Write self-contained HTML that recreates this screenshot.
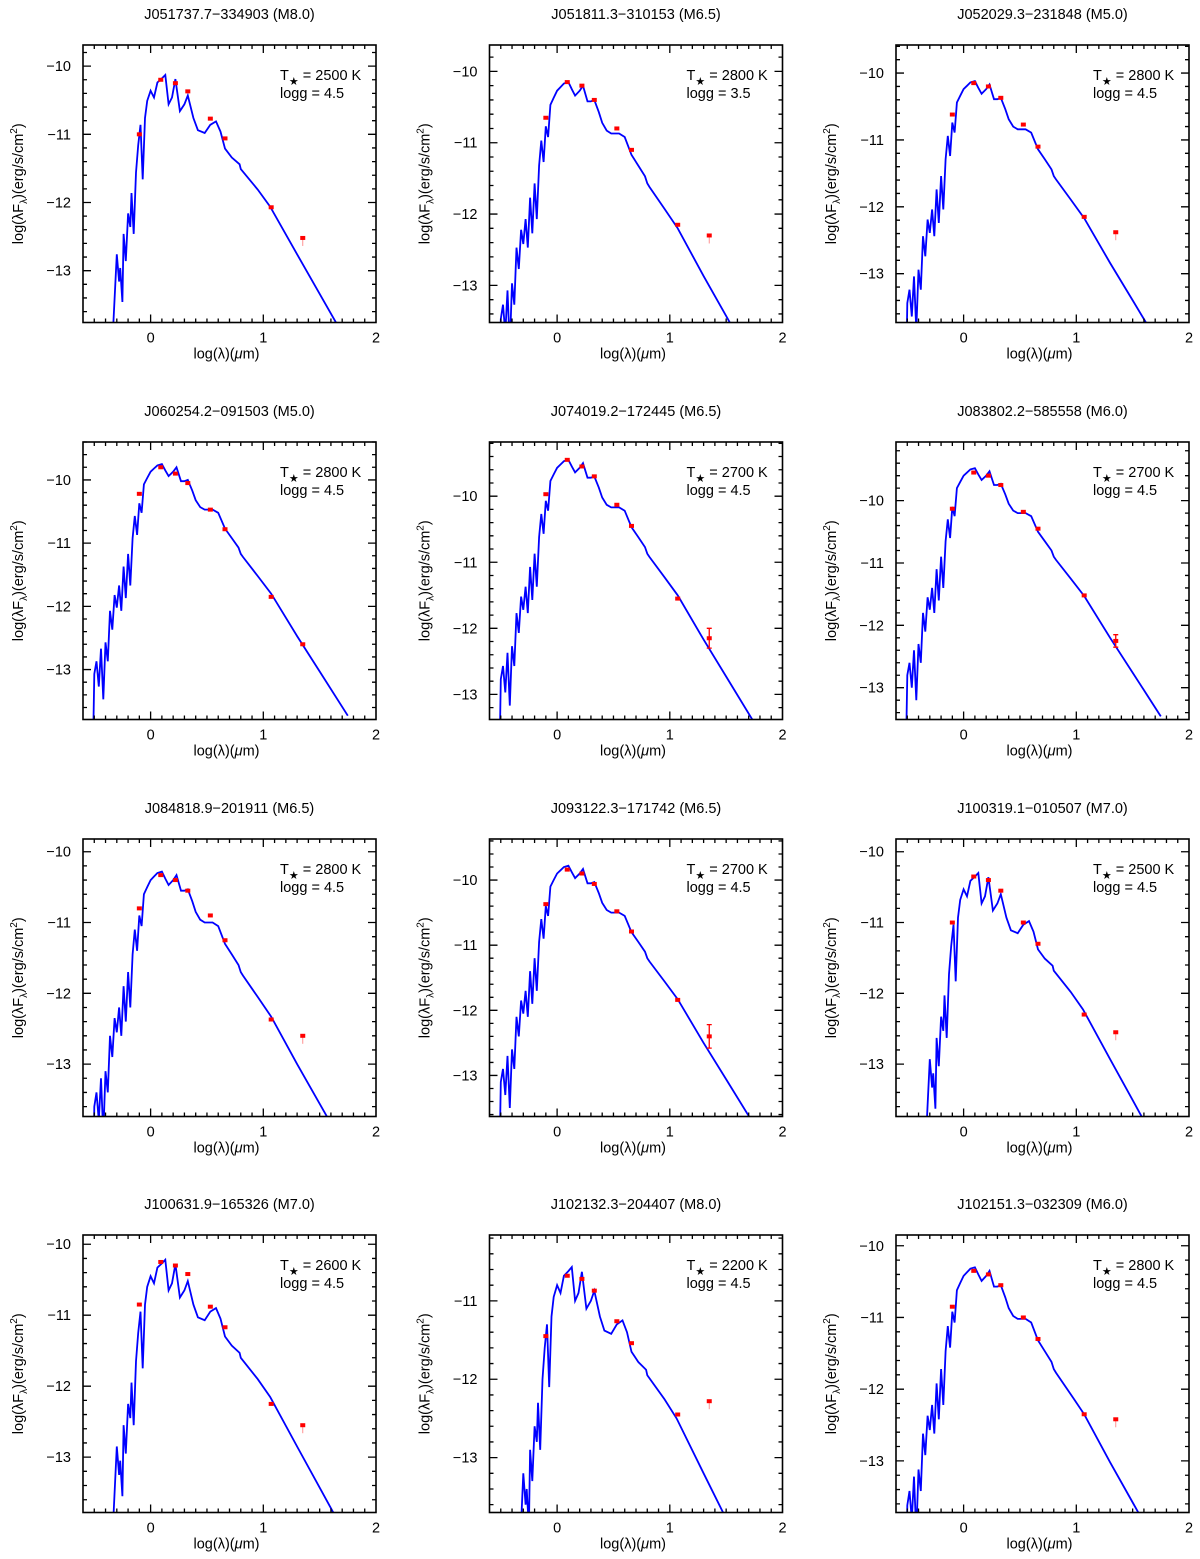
<!DOCTYPE html>
<html><head><meta charset="utf-8">
<style>
html,body{margin:0;padding:0;background:#fff;}
svg{display:block;font-family:"Liberation Sans",sans-serif;}
</style></head>
<body>
<svg id="fig" width="1200" height="1559" viewBox="0 0 1200 1559" xmlns="http://www.w3.org/2000/svg"></svg>
<script>
// ---- data ----
const titles = ["J051737.7\u2212334903 (M8.0)","J051811.3\u2212310153 (M6.5)","J052029.3\u2212231848 (M5.0)",
"J060254.2\u2212091503 (M5.0)","J074019.2\u2212172445 (M6.5)","J083802.2\u2212585558 (M6.0)",
"J084818.9\u2212201911 (M6.5)","J093122.3\u2212171742 (M6.5)","J100319.1\u2212010507 (M7.0)",
"J100631.9\u2212165326 (M7.0)","J102132.3\u2212204407 (M8.0)","J102151.3\u2212032309 (M6.0)"];
const temps = [2500,2800,2800,2800,2700,2700,2800,2700,2500,2600,2200,2800];
const loggs = ["4.5","3.5","4.5","4.5","4.5","4.5","4.5","4.5","4.5","4.5","4.5","4.5"];
const yMins = [-13.76,-13.52,-13.73,-13.79,-13.38,-13.51,-13.74,-13.63,-13.74,-13.78,-13.70,-13.72];
const yMaxs = [-9.69,-9.63,-9.58,-9.40,-9.18,-9.06,-9.82,-9.37,-9.82,-9.87,-10.16,-9.85];
const templType = ["cool","warm","warm","warm","warm","warm","warm","warm","cool","cool","cool","warm"];
const peaks = [-10.13,-10.15,-10.12,-9.75,-9.45,-9.48,-10.28,-9.78,-10.3,-10.22,-10.57,-10.3];
const photX = [-0.1,0.09,0.22,0.33,0.53,0.66,1.07,1.35];
const photY = [
[-11.0,-10.2,-10.25,-10.37,-10.77,-11.06,-12.07,-12.52],
[-10.65,-10.15,-10.2,-10.4,-10.8,-11.1,-12.15,-12.3],
[-10.62,-10.15,-10.2,-10.37,-10.77,-11.1,-12.15,-12.38],
[-10.22,-9.8,-9.9,-10.05,-10.47,-10.78,-11.85,-12.6],
[-9.97,-9.45,-9.55,-9.7,-10.13,-10.45,-11.55,-12.15],
[-10.13,-9.55,-9.6,-9.75,-10.18,-10.45,-11.52,-12.25],
[-10.8,-10.33,-10.4,-10.55,-10.9,-11.25,-12.37,-12.6],
[-10.37,-9.84,-9.9,-10.06,-10.48,-10.79,-11.84,-12.4],
[-11.0,-10.35,-10.4,-10.55,-11.0,-11.3,-12.3,-12.55],
[-10.85,-10.25,-10.3,-10.42,-10.88,-11.17,-12.25,-12.55],
[-11.45,-10.68,-10.72,-10.87,-11.26,-11.54,-12.45,-12.28],
[-10.85,-10.35,-10.4,-10.55,-11.0,-11.3,-12.35,-12.42]];
const lastErr = [0,0,0,0,0.15,0.1,0,0.18,0,0,0,0];
const lastIsLimit = [true,true,true,false,false,false,true,false,true,true,true,true];
// model templates (log lambda, log flux for reference star)
const warmX = [-0.51,-0.5,-0.48,-0.46,-0.44,-0.42,-0.4,-0.38,-0.36,-0.34,-0.32,-0.3,-0.28,-0.26,-0.24,-0.22,-0.2,-0.18,-0.16,-0.14,-0.12,-0.1,-0.08,-0.06,-0.03,0.0,0.03,0.06,0.1,0.13,0.16,0.2,0.23,0.27,0.3,0.33,0.37,0.4,0.44,0.48,0.55,0.6,0.66,0.72,0.78,0.8,0.82,0.95,1.07,1.3,1.5,1.75];
const warmY = [-14.2,-13.1,-12.9,-13.3,-12.7,-13.5,-12.6,-12.9,-12.1,-12.4,-11.85,-12.05,-11.7,-12.1,-11.4,-11.9,-11.2,-11.7,-10.95,-10.6,-10.9,-10.4,-10.55,-10.1,-10.0,-9.9,-9.85,-9.8,-9.78,-9.88,-9.97,-9.9,-9.83,-10.05,-10.05,-10.03,-10.2,-10.35,-10.46,-10.5,-10.5,-10.55,-10.8,-10.95,-11.1,-11.2,-11.25,-11.55,-11.83,-12.5,-13.06,-13.76];
const coolX = [-0.33,-0.3,-0.28,-0.27,-0.25,-0.24,-0.22,-0.2,-0.18,-0.17,-0.15,-0.13,-0.11,-0.09,-0.07,-0.05,-0.03,0.0,0.03,0.06,0.1,0.13,0.16,0.19,0.22,0.26,0.3,0.33,0.38,0.42,0.48,0.53,0.58,0.62,0.66,0.72,0.79,0.8,0.95,1.06,1.3,1.5,1.7];
const coolY = [-14.2,-13.2,-13.6,-13.4,-13.9,-12.9,-13.3,-12.6,-12.8,-12.3,-12.9,-12.0,-11.6,-11.3,-12.1,-11.2,-10.95,-10.8,-10.9,-10.68,-10.62,-10.57,-11.0,-10.9,-10.63,-11.1,-11.0,-10.87,-11.2,-11.38,-11.42,-11.3,-11.25,-11.4,-11.65,-11.78,-11.88,-11.95,-12.25,-12.5,-13.2,-13.78,-14.36];
const templPeak = {warm:-9.78, cool:-10.57};

// ---- layout ----
const NS="http://www.w3.org/2000/svg";
const svg=document.getElementById('fig');
const colX=[83,489.5,896];
const rowY=[45,442,839,1235];
const W=293,H=277.5;
const XMIN=-0.6,XMAX=2;
function mk(tag,attrs,parent){const e=document.createElementNS(NS,tag);for(const k in attrs)e.setAttribute(k,attrs[k]);(parent||svg).appendChild(e);return e;}

for(let p=0;p<12;p++){
  const L=colX[p%3],T=rowY[Math.floor(p/3)],R=L+W,B=T+H;
  const ymin=yMins[p],ymax=yMaxs[p];
  const sx=v=>L+(v-XMIN)/(XMAX-XMIN)*W;
  const sy=v=>B-(v-ymin)/(ymax-ymin)*H;
  const g=mk('g',{});
  
  
  const cp=mk('clipPath',{id:'c'+p},g);mk('rect',{x:L,y:T,width:W,height:H},cp);
  const tt=mk('text',{x:L+W/2,y:T-26,'text-anchor':'middle','font-size':'14.5'},g);
  tt.textContent=titles[p];
  
  
  const tx=templType[p]==='warm'?warmX:coolX, ty=templType[p]==='warm'?warmY:coolY;
  const off=peaks[p]-templPeak[templType[p]];
  let d='';
  for(let i=0;i<tx.length;i++){d+=(i?'L':'M')+sx(tx[i]).toFixed(1)+','+sy(ty[i]+off).toFixed(1);}
  const ln=mk('path',{d:d,fill:'none',stroke:'#0000ff','stroke-width':'1.8','clip-path':'url(#c'+p+')'},g);
  
  
  for(let i=0;i<photX.length;i++){
    const cx=sx(photX[i]),cy=sy(photY[p][i]);
    if(i===7&&lastErr[p]>0){
      const y1=sy(photY[p][i]+lastErr[p]),y2=sy(photY[p][i]-lastErr[p]);
      mk('path',{d:`M${cx},${y1}V${y2}M${cx-2.5},${y1}H${cx+2.5}M${cx-2.5},${y2}H${cx+2.5}`,stroke:'#ff0000','stroke-width':'1.3',fill:'none'},g);
    }
    if(i===7&&lastIsLimit[p]){
      mk('path',{d:`M${cx},${cy}V${cy+8}`,stroke:'#ff9090','stroke-width':'1',fill:'none'},g);
    }
    const pt=mk('rect',{x:cx-2.5,y:cy-2,width:5,height:4,fill:'#ff0000'},g);
    
    
  }
  mk('rect',{x:L,y:T,width:W,height:H,fill:'none',stroke:'#000','stroke-width':'1.6'},g);
  let tk='';
  for(let k=-5;k<=19;k++){const v=k/10,x=sx(v),len=(k%10===0)?8:4;tk+=`M${x},${B}v${-len}M${x},${T}v${len}`;}
  for(let k=Math.ceil(ymin*5);k<=Math.floor(ymax*5);k++){const v=k/5,y=sy(v),len=(k%5===0)?8:4;tk+=`M${L},${y}h${len}M${R},${y}h${-len}`;}
  mk('path',{d:tk,stroke:'#000','stroke-width':'1.3',fill:'none'},g);
  for(let v=0;v<=2;v++){const t=mk('text',{x:sx(v),y:B+20,'text-anchor':'middle','font-size':'14.5'},g);t.textContent=String(v);
    }
  for(let v=Math.ceil(ymin);v<=Math.floor(ymax);v++){const t=mk('text',{x:L-12,y:sy(v)+5,'text-anchor':'end','font-size':'14.5'},g);t.textContent='\u2212'+Math.abs(v);
    }
  const xt=mk('text',{x:L+W/2-3,y:B+36,'text-anchor':'middle','font-size':'14.5'},g);
  xt.innerHTML='log(\u03bb)(<tspan font-style="italic">\u03bc</tspan>m)';
  
  const yt=mk('text',{transform:`translate(${L-60},${T+H/2}) rotate(-90)`,'text-anchor':'middle','font-size':'14.5'},g);
  yt.innerHTML='log(\u03bbF<tspan font-size="10" dy="4">\u03bb</tspan><tspan dy="-4">)(erg/s/cm</tspan><tspan font-size="10" dy="-6">2</tspan><tspan dy="6">)</tspan>';
  
  const a1=mk('text',{x:R-96,y:T+35,'font-size':'14.5'},g);
  a1.innerHTML='T<tspan font-size="11" dy="5">\u2605</tspan><tspan dy="-5"> = '+temps[p]+' K</tspan>';
  
  const a2=mk('text',{x:R-96,y:T+53,'font-size':'14.5'},g);
  a2.textContent='logg = '+loggs[p];
  
}
</script>
</body></html>
